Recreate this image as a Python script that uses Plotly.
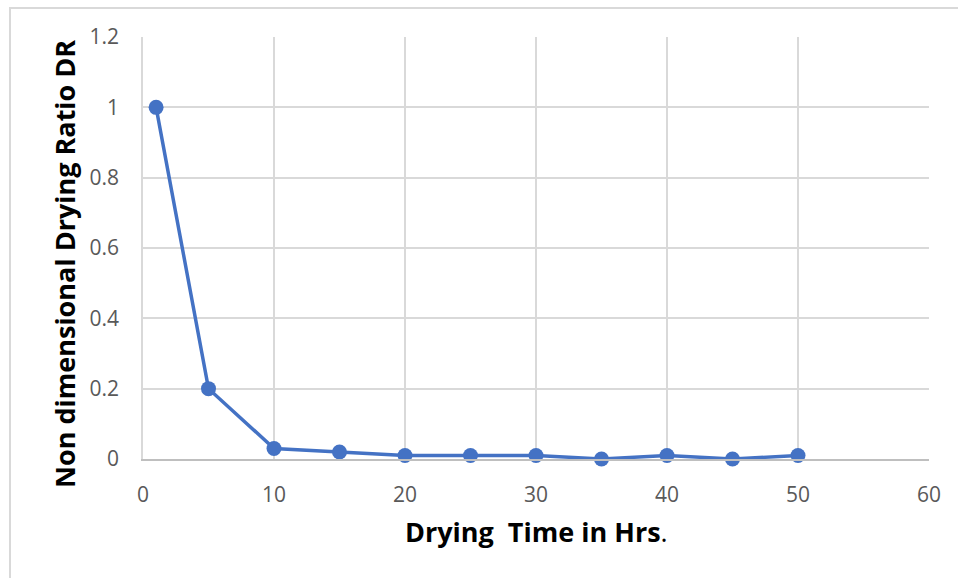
import plotly.graph_objects as go

drying_time = [1, 5, 10, 15, 20, 25, 30, 35, 40, 45, 50]
drying_ratio = [1.0, 0.2, 0.03, 0.02, 0.01, 0.01, 0.01, 0.0, 0.01, 0.0, 0.01]

x_ticks = [0, 10, 20, 30, 40, 50, 60]
y_ticks = [0, 0.2, 0.4, 0.6, 0.8, 1.0, 1.2]
y_tick_text = ["0", "0.2", "0.4", "0.6", "0.8", "1", "1.2"]

x_title = "<b>Drying&nbsp;&nbsp;Time in Hrs</b>."
y_title = "<b>Non dimensional Drying Ratio DR</b>"

fig = go.Figure()
fig.add_trace(go.Scatter(
    x=drying_time, y=drying_ratio, mode="lines+markers",
    line=dict(color="#4472C4", width=3.5),
    marker=dict(color="#4472C4", size=15),
    showlegend=False, cliponaxis=False,
))

W, H = 958, 578
l, r, t, b = 143, 29, 37, 119
pw, ph = W - l - r, H - t - b

tick_font = dict(family="Open Sans, Liberation Sans, sans-serif", size=21, color="#595959")

fig.update_layout(
    width=W, height=H,
    margin=dict(l=l, r=r, t=t, b=b),
    paper_bgcolor="white", plot_bgcolor="white",
    font=dict(family="Open Sans, Liberation Sans, sans-serif", size=21, color="#595959"),
    xaxis=dict(
        range=[0, 60], tickvals=x_ticks, showgrid=True, gridcolor="#d9d9d9", gridwidth=1.5,
        zeroline=False, showline=True, linecolor="#bfbfbf", linewidth=1.5,
        ticks="", ticklabelstandoff=16, tickfont=tick_font,
    ),
    yaxis=dict(
        range=[0, 1.2], tickvals=y_ticks, ticktext=y_tick_text, showgrid=True, gridcolor="#d9d9d9", gridwidth=1.5,
        zeroline=False, showline=True, linecolor="#d9d9d9", linewidth=1.5,
        ticks="", ticklabelstandoff=18, tickfont=tick_font,
    ),
)

fig.add_annotation(text=x_title, xref="paper", yref="paper", x=0.5, y=(459 - 531) / ph,
                   xanchor="center", yanchor="middle", showarrow=False,
                   font=dict(size=27, color="#000000"))
fig.add_annotation(text=y_title, xref="paper", yref="paper", x=(64 - l) / pw, y=(459 - 264) / ph,
                   xanchor="center", yanchor="middle", showarrow=False, textangle=-90,
                   font=dict(size=27, color="#000000"))

# outer chart-area border (top and left edges visible)
x0 = (10 - l) / pw
y1 = 1 + (t - 8) / ph
fig.add_shape(type="rect", xref="paper", yref="paper", x0=x0, x1=1.2, y0=-0.6, y1=y1,
              line=dict(color="#d9d9d9", width=2), layer="below")

fig.write_html("out.html")
